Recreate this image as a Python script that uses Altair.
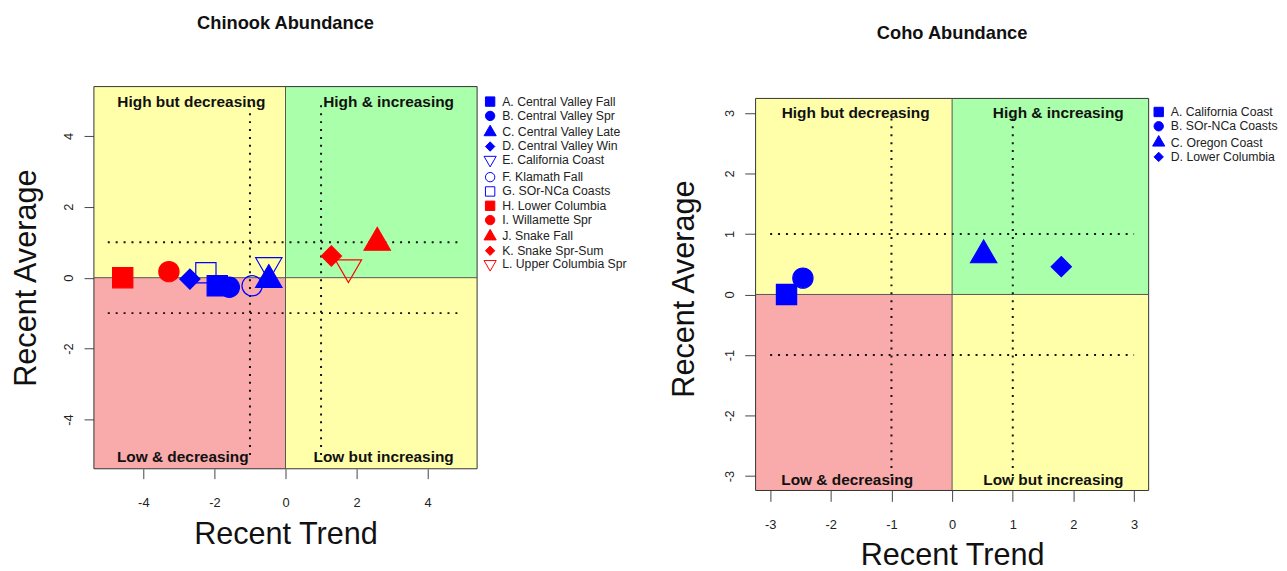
import altair as alt
import pandas as pd

FONT = "Liberation Sans"

# ---------------- data ----------------
ch_labels = ["A. Central Valley Fall", "B. Central Valley Spr", "C. Central Valley Late",
             "D. Central Valley Win", "E. California Coast", "F. Klamath Fall",
             "G. SOr-NCa Coasts", "H. Lower Columbia", "I. Willamette Spr",
             "J. Snake Fall", "K. Snake Spr-Sum", "L. Upper Columbia Spr"]
ch_trend = [-1.92, -1.58, -0.47, -2.69, -0.47, -0.94, -2.24, -4.58, -3.28, 2.58, 1.29, 1.77]
ch_avg = [-0.23, -0.27, -0.06, -0.04, 0.35, -0.23, 0.14, 0.0, 0.17, 0.99, 0.61, 0.29]

co_labels = ["A. California Coast", "B. SOr-NCa Coasts", "C. Oregon Coast", "D. Lower Columbia"]
co_trend = [-2.73, -2.46, 0.52, 1.80]
co_avg = [0.0, 0.27, 0.65, 0.46]

quad_labels = ["High but decreasing", "High & increasing", "Low & decreasing", "Low but increasing"]
ch_quad_x = [-2.65, 2.9, -2.89, 2.76]
ch_quad_y = [4.94, 4.94, -5.05, -5.05]
co_quad_x = [-1.59, 1.75, -1.73, 1.67]
co_quad_y = [3.0, 3.0, -3.06, -3.06]

ch_ticks = [-4, -2, 0, 2, 4]
co_ticks = [-3, -2, -1, 0, 1, 2, 3]

# ---------------- styles ----------------
BLUE, RED = "#0000FF", "#FF0000"
YELLOW, GREEN, PINK = "#FFFFAA", "#AAFFAA", "#F9AAAA"
TRI_UP = "M0,-1.5L1.3,0.75L-1.3,0.75Z"
TRI_DOWN = "M0,1.5L1.3,-0.75L-1.3,-0.75Z"

ch_shapes = ["square", "circle", TRI_UP, "diamond", TRI_DOWN, "circle", "square",
             "square", "circle", TRI_UP, "diamond", TRI_DOWN]
ch_stroke = [BLUE] * 7 + [RED] * 5
ch_fill = [BLUE, BLUE, BLUE, BLUE, "transparent", "transparent", "transparent",
           RED, RED, RED, RED, "transparent"]

co_shapes = ["square", "circle", TRI_UP, "diamond"]
co_stroke = [BLUE] * 4
co_fill = [BLUE] * 4


def panel(title, title_off, labels, trend, avg, shapes, strokes, fills, lim, top_pad_px, dot,
          ticks, qx, qy, width, height, legend_xy, tick_size, label_pad, x_title_pad,
          y_title_pad):
    pts = pd.DataFrame({"trend": trend, "avg": avg, "series": labels})
    quads = pd.DataFrame({
        "x": [-lim, 0, -lim, 0], "x2": [0, lim, 0, lim],
        "y": [0, 0, -lim, -lim], "y2": [lim, lim, 0, 0],
        "c": [YELLOW, GREEN, PINK, YELLOW]})
    frame = pd.DataFrame({"x": [-lim], "x2": [lim], "y": [-lim], "y2": [lim]})
    zero_v = pd.DataFrame({"x": [0], "y": [-lim], "y2": [lim]})
    zero_h = pd.DataFrame({"y": [0], "x": [-lim], "x2": [lim]})
    dot_v = pd.DataFrame({"x": [-1, 1], "y": [-dot, -dot], "y2": [dot, dot]})
    dot_h = pd.DataFrame({"y": [-1, 1], "x": [-dot, -dot], "x2": [dot, dot]})
    qtext = pd.DataFrame({"x": qx, "y": qy, "t": quad_labels})

    # extra empty space above the plot box (keeps the panel's box lower than its neighbour)
    per_px = 2 * lim / height
    ytop = lim + top_pad_px * per_px
    xs = alt.Scale(domain=[-lim, lim], nice=False, zero=False)
    ys = alt.Scale(domain=[-lim, ytop], nice=False, zero=False)
    common = dict(values=ticks, grid=False, domain=False, tickSize=tick_size,
                  tickColor="#444", labelFont=FONT, labelFontSize=13, labelColor="#222",
                  labelExpr="toString(datum.value)", titleFont=FONT, titleFontSize=31,
                  titleFontWeight="normal", titleColor="#111")
    xaxis = alt.Axis(title="Recent Trend", labelPadding=label_pad,
                     titlePadding=x_title_pad, **common)
    yaxis = alt.Axis(title="Recent Average", labelPadding=label_pad - 9, labelAngle=-90,
                     labelAlign="center", labelBaseline="bottom",
                     titlePadding=y_title_pad, **common)

    def X(f):
        return alt.X(f, type="quantitative", scale=xs, axis=xaxis)

    def Y(f):
        return alt.Y(f, type="quantitative", scale=ys, axis=yaxis)

    rects = alt.Chart(quads).mark_rect(stroke=None).encode(
        x=X("x"), x2="x2", y=Y("y"), y2="y2", color=alt.Color("c:N", scale=None))
    box = alt.Chart(frame).mark_rect(fillOpacity=0, stroke="#333", strokeWidth=1).encode(
        x=X("x"), x2="x2", y=Y("y"), y2="y2")
    zv = alt.Chart(zero_v).mark_rule(color="#555", strokeWidth=1).encode(x=X("x"), y=Y("y"), y2="y2")
    zh = alt.Chart(zero_h).mark_rule(color="#555", strokeWidth=1).encode(y=Y("y"), x=X("x"), x2="x2")
    dv = alt.Chart(dot_v).mark_rule(color="#111", strokeWidth=2, strokeDash=[2, 6]).encode(
        x=X("x"), y=Y("y"), y2="y2")
    dh = alt.Chart(dot_h).mark_rule(color="#111", strokeWidth=2, strokeDash=[2, 6]).encode(
        y=Y("y"), x=X("x"), x2="x2")
    txt = alt.Chart(qtext).mark_text(font=FONT, fontSize=15.6, fontWeight="bold", color="#111",
                                     align="center", baseline="middle").encode(
        x=X("x"), y=Y("y"), text="t:N")

    leg = alt.Legend(title=None, orient="none", legendX=legend_xy[0], legendY=legend_xy[1],
                     labelFont=FONT, labelFontSize=12.4, labelColor="#222", symbolSize=90,
                     symbolStrokeWidth=1, rowPadding=0.5, labelOffset=6, padding=0,
                     symbolOpacity=1)
    points = alt.Chart(pts).mark_point(size=420, opacity=1, strokeWidth=1.2).encode(
        x=X("trend"), y=Y("avg"),
        shape=alt.Shape("series:N", scale=alt.Scale(domain=labels, range=shapes), legend=leg),
        stroke=alt.Stroke("series:N", scale=alt.Scale(domain=labels, range=strokes), legend=leg),
        fill=alt.Fill("series:N", scale=alt.Scale(domain=labels, range=fills), legend=leg),
    )
    return alt.layer(rects, box, zv, zh, dv, dh, txt, points).properties(
        width=width, height=height + top_pad_px,
        title=alt.TitleParams(title, font=FONT, fontSize=18.5, fontWeight="bold", color="#111",
                              anchor="middle", offset=title_off))


left = panel("Chinook Abundance", 54.5, ch_labels, ch_trend, ch_avg, ch_shapes, ch_stroke,
             ch_fill, 5.39, 0, 5.0, ch_ticks, ch_quad_x, ch_quad_y, 388, 387, (395, 9),
             10, 18, 11, 20)
right = panel("Coho Abundance", 44.5, co_labels, co_trend, co_avg, co_shapes, co_stroke,
              co_fill, 3.24, 12, 3.0, co_ticks, co_quad_x, co_quad_y, 398, 397,
              (402, 19.5), 11, 17, 10, 24)

chart = alt.hconcat(left, right, spacing=40).resolve_scale(
    x="independent", y="independent", shape="independent", fill="independent",
    stroke="independent").resolve_legend(shape="independent", fill="independent",
                                         stroke="independent").properties(
    padding={"left": 2, "top": 2, "right": 0, "bottom": 0}
).configure_view(stroke="transparent")

chart.save("out.html", embed_options={"renderer": "svg", "actions": False})
